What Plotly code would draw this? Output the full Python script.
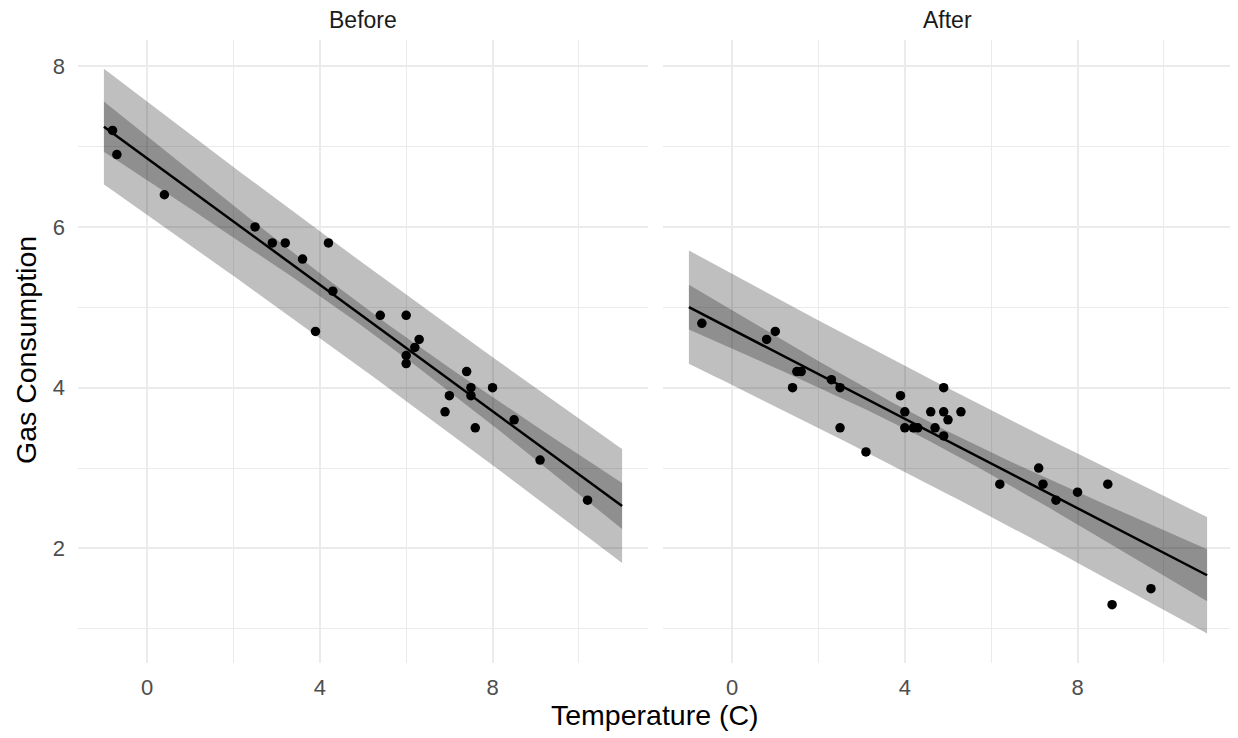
import numpy as np
import plotly.graph_objects as go

# whiteside data (MASS)
before_temp = [-0.8, -0.7, 0.4, 2.5, 2.9, 3.2, 3.6, 3.9, 4.2, 4.3, 5.4, 6.0, 6.0, 6.0, 6.2, 6.3,
               6.9, 7.0, 7.4, 7.5, 7.5, 7.6, 8.0, 8.5, 9.1, 10.2]
before_gas = [7.2, 6.9, 6.4, 6.0, 5.8, 5.8, 5.6, 4.7, 5.8, 5.2, 4.9, 4.9, 4.3, 4.4, 4.5, 4.6,
              3.7, 3.9, 4.2, 4.0, 3.9, 3.5, 4.0, 3.6, 3.1, 2.6]
after_temp = [-0.7, 0.8, 1.0, 1.4, 1.5, 1.6, 2.3, 2.5, 2.5, 3.1, 3.9, 4.0, 4.0, 4.2, 4.3, 4.6,
              4.7, 4.9, 4.9, 4.9, 5.0, 5.3, 6.2, 7.1, 7.2, 7.5, 8.0, 8.7, 8.8, 9.7]
after_gas = [4.8, 4.6, 4.7, 4.0, 4.2, 4.2, 4.1, 4.0, 3.5, 3.2, 3.9, 3.5, 3.7, 3.5, 3.5, 3.7,
             3.5, 3.4, 3.7, 4.0, 3.6, 3.7, 2.8, 3.0, 2.8, 2.6, 2.7, 2.8, 1.3, 1.5]
panels = ["Before", "After"]
x_ticks = [0, 4, 8]
y_ticks = [2, 4, 6, 8]
T975_DF52 = 2.0066  # t quantile for pooled interaction model (56 obs - 4 params)
x_grid = np.linspace(-1, 11, 80)

groups = [(np.array(before_temp), np.array(before_gas)), (np.array(after_temp), np.array(after_gas))]

# Model Gas ~ Temp * Insul: separate lines, pooled residual variance
fits = []
rss = 0.0
for x, y in groups:
    b, a = np.polyfit(x, y, 1)
    rss += np.sum((y - (a + b * x))**2)
    fits.append((a, b))
df = sum(len(x) for x, _ in groups) - 4
s = np.sqrt(rss / df)

fig = go.Figure()
light = "rgba(0,0,0,0.25)"
dark = "rgba(0,0,0,0.25)"

for i, ((x, y), (a, b)) in enumerate(zip(groups, fits)):
    xa = "x" if i == 0 else "x2"
    ya = "y" if i == 0 else "y2"
    n = len(x)
    sxx = np.sum((x - x.mean())**2)
    fit = a + b * x_grid
    se_fit = s * np.sqrt(1 / n + (x_grid - x.mean())**2 / sxx)
    se_pred = s * np.sqrt(1 + 1 / n + (x_grid - x.mean())**2 / sxx)
    for se, col in [(se_pred, light), (se_fit, dark)]:
        lo = fit - T975_DF52 * se
        hi = fit + T975_DF52 * se
        fig.add_trace(go.Scatter(x=np.concatenate([x_grid, x_grid[::-1]]),
                                 y=np.concatenate([hi, lo[::-1]]),
                                 fill="toself", fillcolor=col, line=dict(width=0),
                                 mode="lines", hoverinfo="skip", showlegend=False,
                                 xaxis=xa, yaxis=ya))
    fig.add_trace(go.Scatter(x=x_grid, y=fit, mode="lines", line=dict(color="black", width=2.5),
                             showlegend=False, xaxis=xa, yaxis=ya))
    fig.add_trace(go.Scatter(x=x, y=y, mode="markers", marker=dict(color="black", size=9.5),
                             showlegend=False, xaxis=xa, yaxis=ya))

# page is offset by the 8px body margin
OFF = 8
W, H = 1230, 730
def px(p):
    return (p - OFF) / W
def py(p):
    return (H - (p - OFF)) / H

xdom1 = [px(78), px(648)]
xdom2 = [px(663), px(1233)]
ydom = [py(663), py(40)]

tickfont = dict(family="Liberation Sans", size=22, color="#4D4D4D")
xcommon = dict(range=[-1.6, 11.6], tickvals=x_ticks, ticktext=[str(v) for v in x_ticks],
               showgrid=True, gridcolor="#EBEBEB", gridwidth=2.2, zeroline=False,
               showline=False, ticks="", tickfont=tickfont,
               minor=dict(tickvals=[2, 6, 10], showgrid=True, gridcolor="#EBEBEB", gridwidth=1.1),
               ticklabelstandoff=9)
ycommon = dict(range=[0.575, 8.325], tickvals=y_ticks, showgrid=True, gridcolor="#EBEBEB",
               gridwidth=2.2, zeroline=False, showline=False, ticks="",
               minor=dict(tickvals=[1, 3, 5, 7], showgrid=True, gridcolor="#EBEBEB", gridwidth=1.1))

stripfont = dict(family="Liberation Sans", size=23, color="#1A1A1A")
titlefont = dict(family="Liberation Sans", size=28.5, color="black")

def ann(text, x, y, font, angle=0):
    return dict(text=text, x=x, y=y, xref="paper", yref="paper", xanchor="center",
                yanchor="middle", showarrow=False, textangle=angle, font=font)

fig.update_layout(
    width=W, height=H, margin=dict(l=0, r=0, t=0, b=0),
    paper_bgcolor="white", plot_bgcolor="white",
    xaxis=dict(domain=xdom1, anchor="y", **xcommon),
    xaxis2=dict(domain=xdom2, anchor="y2", **xcommon),
    yaxis=dict(domain=ydom, anchor="x", tickfont=tickfont, ticklabelstandoff=12, **ycommon),
    yaxis2=dict(domain=ydom, anchor="x2", showticklabels=False, **ycommon),
    annotations=[
        ann(panels[0], (xdom1[0] + xdom1[1]) / 2, py(19.5), stripfont),
        ann(panels[1], (xdom2[0] + xdom2[1]) / 2, py(19.5), stripfont),
        ann("Temperature (C)", px(654.5), py(715), titlefont),
        ann("Gas Consumption", px(26), py(350), titlefont, -90),
    ],
)

fig.write_html("out.html")
